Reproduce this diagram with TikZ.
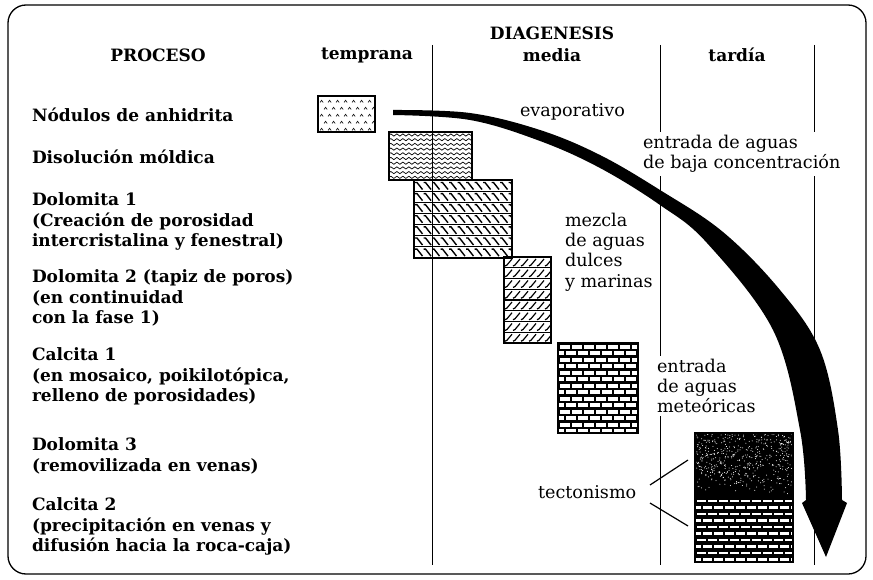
\documentclass[tikz,border=0pt]{standalone}
\usepackage{fontspec}
\setmainfont{DejaVu Serif}
\usetikzlibrary{decorations.pathmorphing}
\tikzset{
	every node/.style={draw=none,rectangle,outer sep=0pt,inner sep=0pt},
	proceso/.style={anchor=north west,align=left,font=\bfseries\fontsize{17}{20.5}\selectfont},
	titulo/.style={font=\bfseries\fontsize{17}{18}\selectfont},
	medio/.style={anchor=north west,align=left,font=\fontsize{17.6}{20.3}\selectfont},
	hueco/.style={fill=white,inner sep=3pt},
	fase/.style={line width=0.9pt},
	caja/.style={draw,line width=1.1pt,anchor=north west}
	}
\begin{document}
\begin{tikzpicture}[x=1pt,y=-1pt]
		\useasboundingbox (0,0) rectangle (873,580);
		\draw[line width=1.3pt,rounded corners=18pt] (8,5) rectangle (866,574);
		% columnas de la diagenesis
		\foreach \x in {432,660,814}
			\draw[fase] (\x,45) -- (\x,565);
		\node[titulo] (proceso) at (158,55) {PROCESO};
		\node[titulo] (temprana) at (367,55) {temprana};
		\node[titulo] (diagenesis) at (552,33) {DIAGENESIS};
		\node[titulo] (media) at (552,55) {media};
		\node[titulo] (tardia) at (737,55) {tardía};
		% procesos
		\node[proceso] (p1) at (32,108) {Nódulos de anhidrita};
		\node[proceso] (p2) at (32,150) {Disolución móldica};
		\node[proceso] (p3) at (32,193) {Dolomita 1\\(Creación de porosidad\\intercristalina y fenestral)};
		\node[proceso] (p4) at (32,270) {Dolomita 2 (tapiz de poros)\\(en continuidad\\con la fase 1)};
		\node[proceso] (p5) at (32,348) {Calcita 1\\(en mosaico, poikilotópica,\\relleno de porosidades)};
		\node[proceso] (p6) at (32,438) {Dolomita 3\\(removilizada en venas)};
		\node[proceso] (p7) at (32,498) {Calcita 2\\(precipitación en venas y\\difusión hacia la roca-caja)};
		% tramas
		\begin{scope}
			\clip (318,96) rectangle (375,132);
			\foreach \r in {0,...,4}
				\foreach \c in {0,...,6}
					\draw[line width=0.6pt] ({320+8*\c+4*mod(\r,2)},{102.5+7*\r}) -- ++(1.6,-2.2) -- ++(1.6,2.2);
		\end{scope}
		\begin{scope}
			\clip (389,132) rectangle (472,180);
			\foreach \k in {0,...,9}
				\draw[line width=0.7pt,decorate,decoration={snake,amplitude=1.1pt,segment length=6pt}] (389,{135+4.7*\k}) -- (474,{135+4.7*\k});
		\end{scope}
		\begin{scope}
			\clip (414,180) rectangle (512,258);
			\foreach \r in {0,...,6} {
				\draw[line width=1.1pt] (414,{180+11.1*\r}) -- (512,{180+11.1*\r});
				\foreach \c in {0,...,11}
					\draw[line width=1.4pt] ({415+8.5*\c},{182.5+11.1*\r}) -- ++(2,0) -- ++(5.5,7);
			}
		\end{scope}
		\begin{scope}
			\clip (504,257) rectangle (551,343);
			\foreach \r in {0,...,7} {
				\draw[line width=1.1pt] (504,{257+10.75*\r}) -- (551,{257+10.75*\r});
				\foreach \c in {0,...,5}
					\draw[line width=1.2pt] ({505+8*\c},{266+10.75*\r}) -- ++(2,-1) -- ++(5,-6);
			}
		\end{scope}
		\begin{scope}
			\clip (558,343) rectangle (638,433);
			\fill (558,343) rectangle (638,433);
			\foreach \r in {0,...,13}
				\foreach \c in {0,...,7}
					\fill[white] ({559.5+12*\c-6*mod(\r,2)},{344.5+6.5*\r}) rectangle ++(10,4);
		\end{scope}
		\begin{scope}
			\clip (695,433) rectangle (793,497);
			\fill (695,433) rectangle (793,497);
			\pgfmathsetseed{17}
			\foreach \i in {1,...,520}
				\fill[white] ({695+98*rnd},{433+62*rnd*rnd^0.3}) circle (0.5);
		\end{scope}
		\begin{scope}
			\clip (695,497) rectangle (793,562);
			\fill (695,497) rectangle (793,562);
			\foreach \r in {0,...,9}
				\foreach \c in {0,...,9}
					\fill[white] ({697+11*\c-5.5*mod(\r,2)},{499.5+6.5*\r}) rectangle ++(9,2.8);
		\end{scope}
		% cajas
		\node[caja,minimum width=57,minimum height=36] (anhidrita) at (318,96) {};
		\node[caja,minimum width=83,minimum height=48] (moldica) at (389,132) {};
		\node[caja,minimum width=98,minimum height=78] (dolomita1) at (414,180) {};
		\node[caja,minimum width=47,minimum height=86] (dolomita2) at (504,257) {};
		\node[caja,minimum width=80,minimum height=90] (calcita1) at (558,343) {};
		\node[caja,minimum width=98,minimum height=64] (dolomita3) at (695,433) {};
		\node[caja,minimum width=98,minimum height=65] (calcita2) at (695,497) {};
		% medios
		\node[medio] (evap) at (520,104) {evaporativo};
		\node[medio,hueco] (baja) at (640,132) {entrada de aguas\\de baja concentración};
		\node[medio] (mezcla) at (565,213) {mezcla\\de aguas\\dulces\\y marinas};
		\node[medio,hueco] (meteor) at (654,356) {entrada\\de aguas\\meteóricas};
		\node[medio] (tect) at (538,486) {tectonismo};
		\coordinate (ta) at (650,485);
		\coordinate (tb) at (650,503);
		\coordinate (da) at (688,460);
		\coordinate (cb) at (688,526);
		\draw[line width=1.2pt] (ta) -- (da);
		\draw[line width=1.2pt] (tb) -- (cb);
		% flecha
		\fill plot[smooth,tension=0.6] coordinates {(393,110) (470,113) (540,130) (600,155) (660,190) (723,232) (780,290) (820,350) (838,430) (842,500)}
			-- (847,503) -- (826,557) -- (802,503) -- (806,500)
			-- plot[smooth,tension=0.6] coordinates {(806,500) (800,430) (773,330) (707,243) (660,205) (600,168) (540,141) (470,120) (393,115)} -- cycle;
\end{tikzpicture}
\end{document}
